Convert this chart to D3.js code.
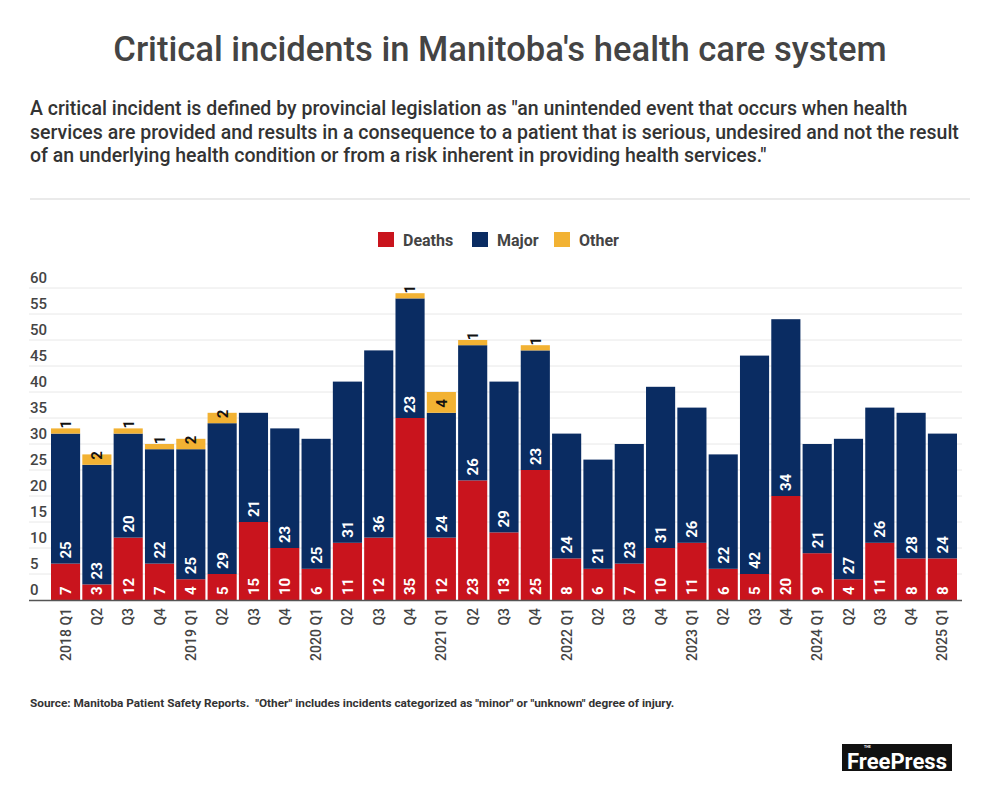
<!DOCTYPE html>
<html>
<head>
<meta charset="utf-8">
<script src="https://cdn.jsdelivr.net/npm/d3@7"></script>
<style>
html,body{margin:0;padding:0;background:#fff;}
svg{display:block;font-family:Roboto,"Noto Sans",sans-serif;}
</style>
</head>
<body>
<script>
const quarters = ["2018 Q1","Q2","Q3","Q4","2019 Q1","Q2","Q3","Q4","2020 Q1","Q2","Q3","Q4","2021 Q1","Q2","Q3","Q4","2022 Q1","Q2","Q3","Q4","2023 Q1","Q2","Q3","Q4","2024 Q1","Q2","Q3","Q4","2025 Q1"];
const deaths = [7,3,12,7,4,5,15,10,6,11,12,35,12,23,13,25,8,6,7,10,11,6,5,20,9,4,11,8,8];
const major  = [25,23,20,22,25,29,21,23,25,31,36,23,24,26,29,23,24,21,23,31,26,22,42,34,21,27,26,28,24];
const other  = [1,2,1,1,2,2,0,0,0,0,0,1,4,1,0,1,0,0,0,0,0,0,0,0,0,0,0,0,0];
const seriesNames = ["Deaths","Major","Other"];
const yTicks = [0,5,10,15,20,25,30,35,40,45,50,55,60];

const colors = {Deaths:"#c9141d", Major:"#0a2c62", Other:"#f2b233"};
const labelColors = {Deaths:"#fff", Major:"#fff", Other:"#111"};

const W = 1000, H = 789;
const svg = d3.select("body").append("svg").attr("width", W).attr("height", H);

// Title
svg.append("text").attr("x", 500).attr("y", 61).attr("text-anchor","middle")
  .attr("font-size", 34.6).attr("fill","#444").attr("font-weight", 500)
  .text("Critical incidents in Manitoba's health care system");

const sub = [
  "A critical incident is defined by provincial legislation as \"an unintended event that occurs when health",
  "services are provided and results in a consequence to a patient that is serious, undesired and not the result",
  "of an underlying health condition or from a risk inherent in providing health services.\""
];
svg.append("g").selectAll("text").data(sub).join("text")
  .attr("x", 30).attr("y", (d,i)=>115 + i*23.5)
  .attr("font-size", 19.5).attr("font-weight",500).attr("fill","#333").text(d=>d);

svg.append("line").attr("x1",30).attr("x2",970).attr("y1",199).attr("y2",199)
  .attr("stroke","#e3e3e3").attr("stroke-width",1.5);

// Legend
const legendX = [378, 472, 554];
const lg = svg.append("g").selectAll("g").data(seriesNames).join("g")
  .attr("transform",(d,i)=>`translate(${legendX[i]},232)`);
lg.append("rect").attr("width",16).attr("height",15).attr("fill",d=>colors[d]);
lg.append("text").attr("x",25).attr("y",13.5).attr("font-size",16).attr("font-weight",700)
  .attr("fill","#444").text(d=>d);

// Scales
const x = d3.scaleBand().domain(d3.range(quarters.length)).range([51, 957]).paddingInner(0.07).paddingOuter(0);
const y = d3.scaleLinear().domain([0,60]).range([600, 288]);

// Grid
const grid = svg.append("g");
grid.selectAll("line").data(yTicks.filter(t=>t>0)).join("line")
  .attr("x1",29).attr("x2",962).attr("y1",d=>y(d)).attr("y2",d=>y(d))
  .attr("stroke","#e8e8e8").attr("stroke-width",1);
grid.selectAll("text").data(yTicks).join("text")
  .attr("x",30).attr("y",d=>y(d)-5).attr("font-size",15).attr("font-weight",500)
  .attr("fill","#444").text(d=>d);

// Stacked data
const rows = quarters.map((q,i)=>({i, Deaths:deaths[i], Major:major[i], Other:other[i]}));
const stack = d3.stack().keys(seriesNames)(rows);

const barsG = svg.append("g");
stack.forEach(layer=>{
  const key = layer.key;
  barsG.append("g").selectAll("rect").data(layer).join("rect")
    .attr("x",(d,i)=>x(i)).attr("width",x.bandwidth())
    .attr("y",d=>y(d[1])).attr("height",d=>y(d[0])-y(d[1]))
    .attr("fill",colors[key]);
});
stack.forEach(layer=>{
  const key = layer.key;
  barsG.append("g").selectAll("text").data(layer.filter(d=>d.data[key]>0)).join("text")
    .attr("transform",d=>`translate(${x(d.data.i)+x.bandwidth()/2},${y(d[0])-5}) rotate(-90)`)
    .attr("dy","0.36em").attr("text-anchor","start")
    .attr("font-size",15).attr("font-weight",700).attr("fill",labelColors[key])
    .text(d=>d.data[key]);
});

// Axis line
svg.append("line").attr("x1",29).attr("x2",962).attr("y1",y(0)+0.5).attr("y2",y(0)+0.5)
  .attr("stroke","#555").attr("stroke-width",1.5);

// X labels
const xAxis = d3.axisBottom(x).tickSize(0).tickFormat(i=>quarters[i]);
const xg = svg.append("g").attr("transform",`translate(0,${y(0)})`).call(xAxis);
xg.select(".domain").remove();
xg.selectAll("text")
  .attr("transform","rotate(-90)").attr("x",-8).attr("y",0).attr("dy","0.36em")
  .attr("text-anchor","end").attr("font-size",14).attr("font-weight",500)
  .attr("fill","#444").attr("font-family","Roboto");

// Source
svg.append("text").attr("x",30).attr("y",707).attr("font-size",11.8).attr("font-weight",700)
  .attr("fill","#333")
  .text("Source: Manitoba Patient Safety Reports.  \"Other\" includes incidents categorized as \"minor\" or \"unknown\" degree of injury.")
  .attr("xml:space","preserve").style("white-space","pre");

// Logo
const logo = svg.append("g").attr("transform","translate(842,744)");
logo.append("rect").attr("width",110).attr("height",27).attr("fill","#111");
logo.append("text").attr("x",55).attr("y",25).attr("text-anchor","middle")
  .attr("font-family","'Liberation Sans Narrow','Arial Narrow',Roboto,sans-serif")
  .attr("font-weight",700).attr("font-size",22).attr("letter-spacing",0)
  .attr("fill","#fff").text("FreePress");
logo.append("text").attr("x",22).attr("y",4).attr("font-size",3.5).attr("fill","#fff")
  .attr("font-weight",700).text("THE");
</script>
</body>
</html>
